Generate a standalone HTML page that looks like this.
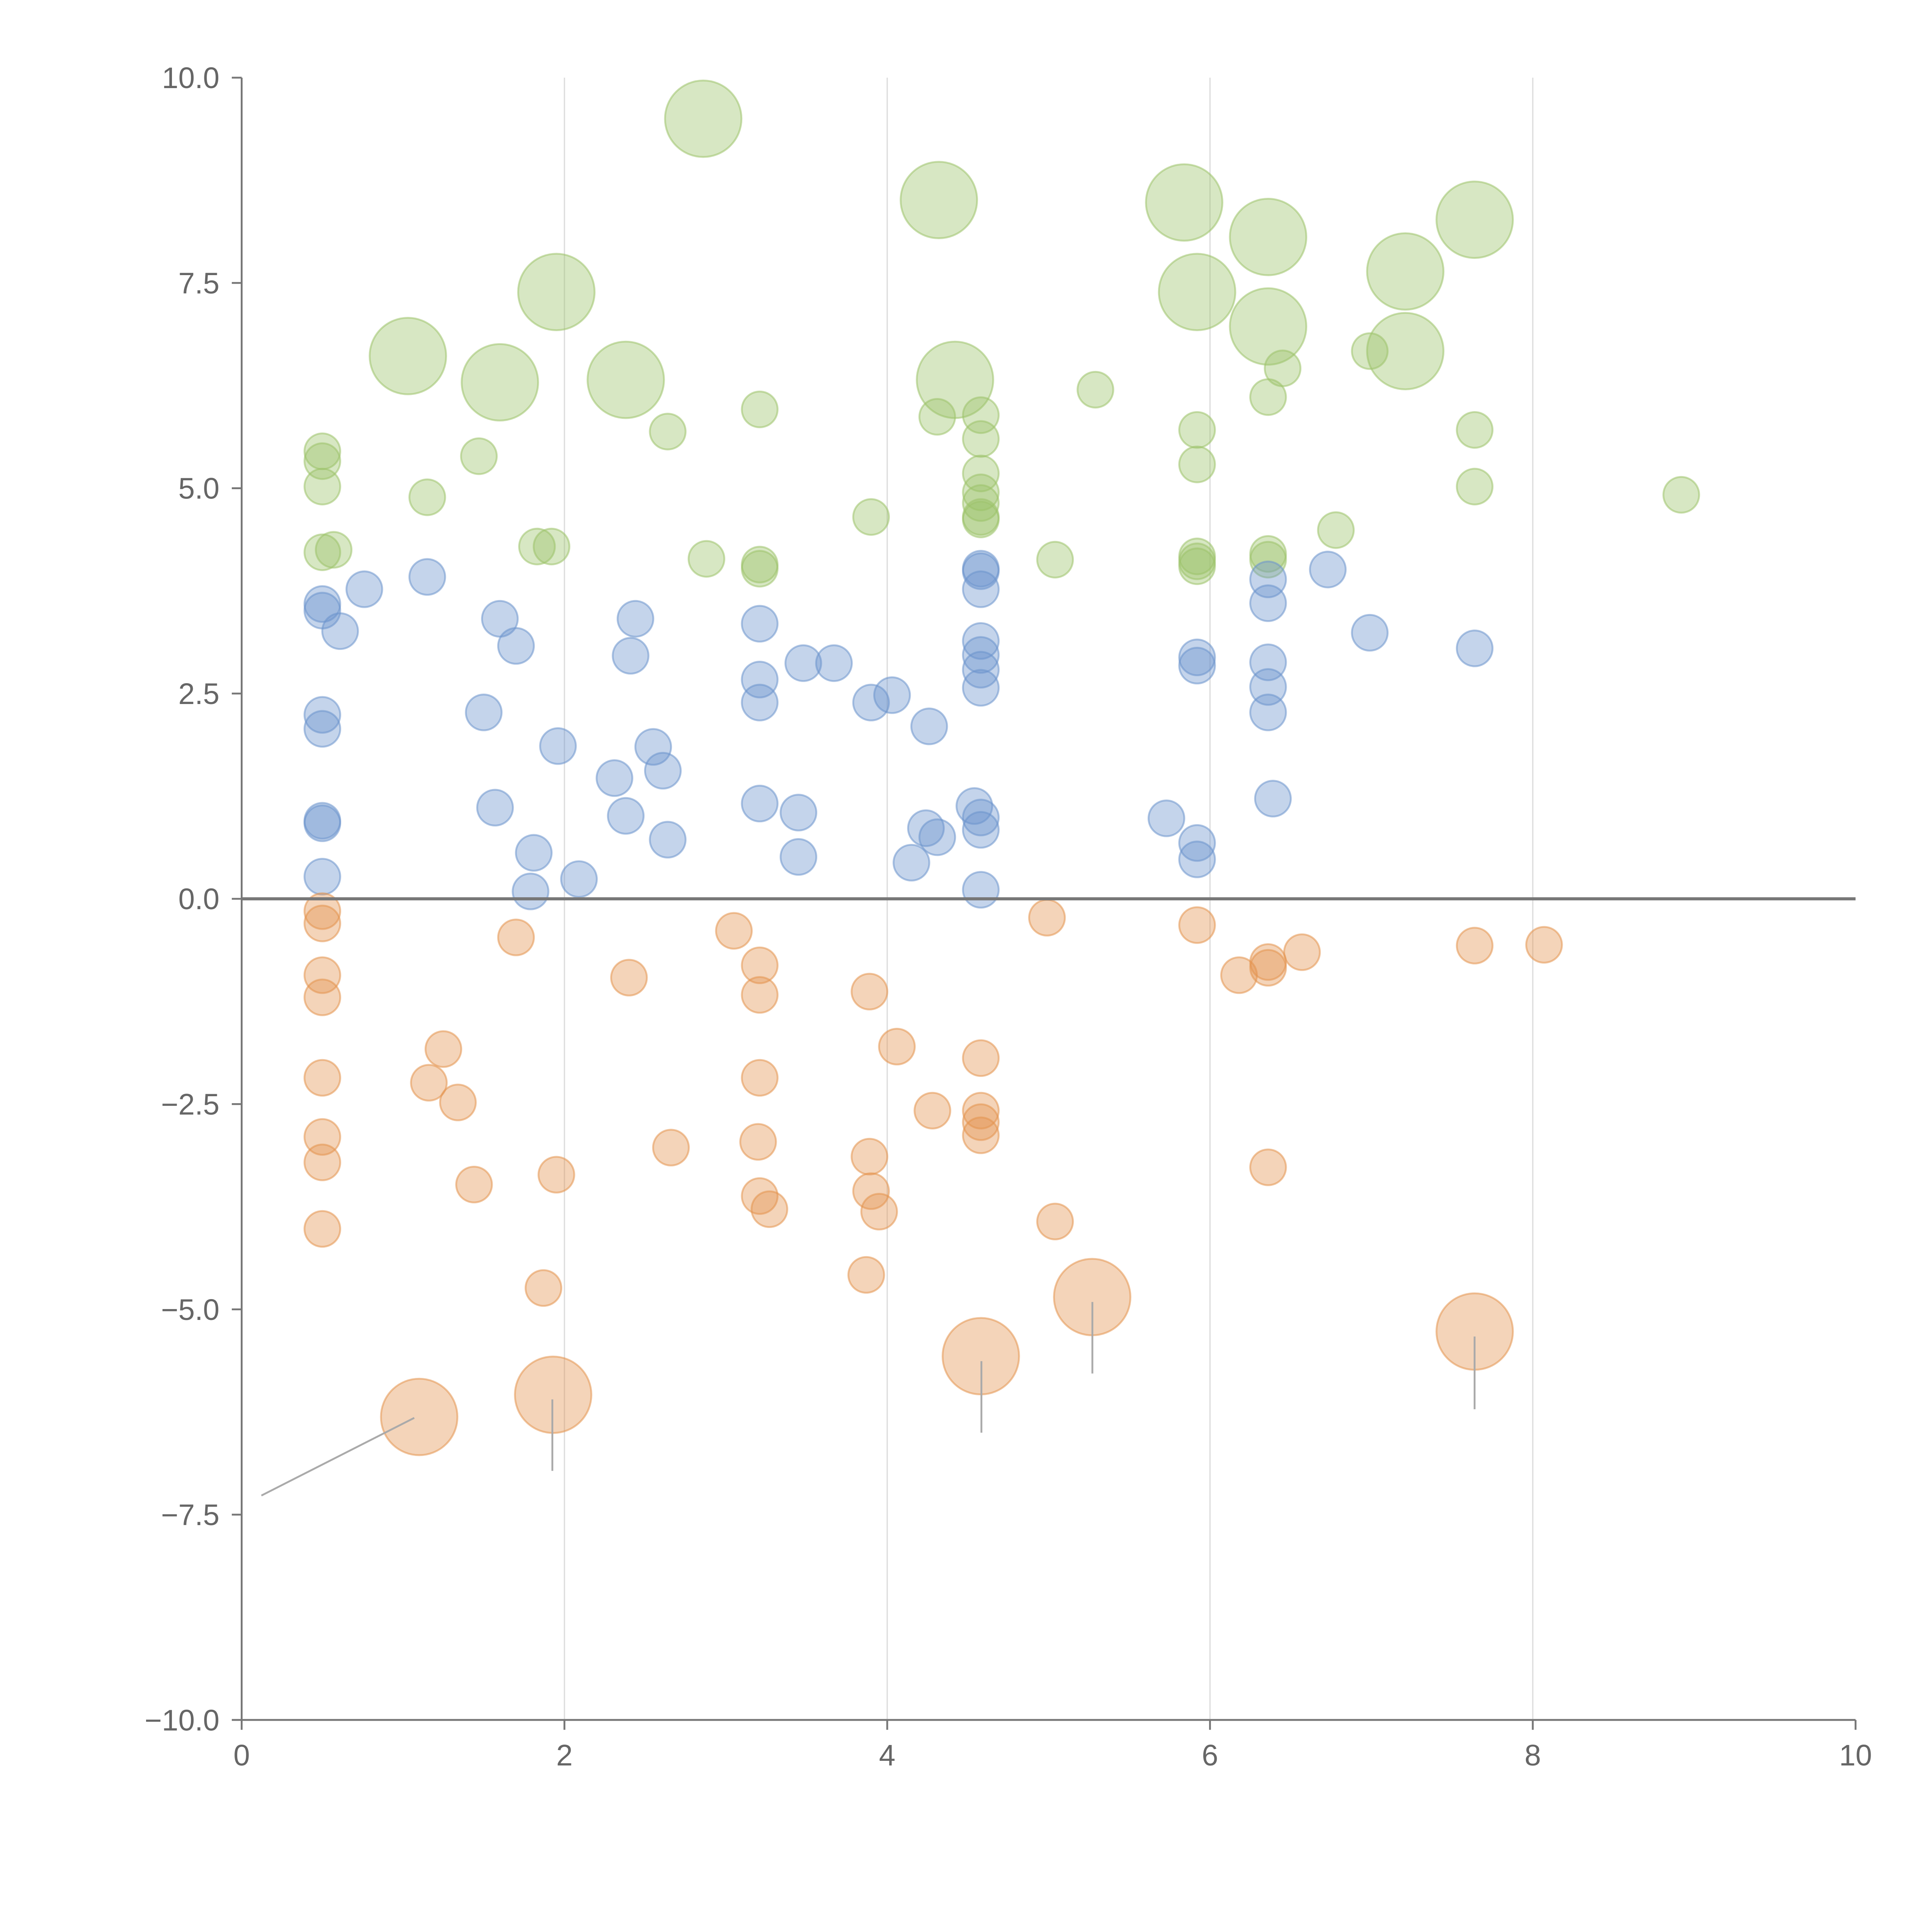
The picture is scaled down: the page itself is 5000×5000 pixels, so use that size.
<!DOCTYPE html>
<html><head><meta charset="utf-8">
<style>html,body{margin:0;padding:0;background:#fff;}svg{display:block;}</style></head>
<body>
<svg id="chart" width="5000" height="5000" viewBox="0 0 1567 1567" xmlns="http://www.w3.org/2000/svg" font-family="'Liberation Sans', sans-serif">
<rect width="1567" height="1567" fill="#fff"/>
<g id="grid"></g>
<g id="marks"></g>
<g id="axes"></g>
</svg>
<script>
const xTicks = [0, 2, 4, 6, 8, 10];
const yTicks = [-10, -7.5, -5, -2.5, 0, 2.5, 5, 7.5, 10];
const yTickLabels = ["−10.0", "−7.5", "−5.0", "−2.5", "0.0", "2.5", "5.0", "7.5", "10.0"];
const greenX = [2.86,4.32,5.84,6.36,7.64,1.95,5.92,7.21,6.36,1.03,7.21,1.60,2.38,4.42,0.5,0.5,0.5,0.5,0.57,1.15,1.47,1.83,1.92,2.64,2.88,3.21,3.21,3.21,3.90,4.31,4.58,4.58,4.58,4.58,4.58,4.58,4.58,5.04,5.29,5.92,5.92,5.92,5.92,5.92,6.36,6.36,6.45,6.36,6.78,6.99,7.64,7.64,8.92];
const greenY = [9.50,8.51,8.48,8.06,8.27,7.39,7.39,7.64,6.97,6.61,6.67,6.29,6.32,6.32,5.45,5.33,5.02,4.22,4.25,4.89,5.39,4.29,4.29,5.69,4.14,5.96,4.07,4.02,4.65,5.87,5.89,5.60,5.18,4.95,4.82,4.65,4.62,4.13,6.20,5.71,5.29,4.17,4.11,4.05,4.20,4.13,6.46,6.11,4.49,6.67,5.71,5.02,4.92];
const greenSize = [1,1,1,1,1,1,1,1,1,1,1,1,1,1,0,0,0,0,0,0,0,0,0,0,0,0,0,0,0,0,0,0,0,0,0,0,0,0,0,0,0,0,0,0,0,0,0,0,0,0,0,0,0];
const blueX = [0.5,0.5,0.61,0.76,1.15,1.60,1.70,0.5,0.5,1.50,1.57,0.5,0.5,0.5,1.81,1.79,2.09,1.96,2.31,2.38,2.44,2.41,2.55,2.61,2.64,3.21,3.21,3.21,3.21,3.45,3.45,3.48,3.67,3.90,4.03,4.26,4.15,4.24,4.31,4.54,4.58,4.58,4.58,4.58,4.58,4.58,4.58,4.58,4.58,4.58,5.73,5.92,5.92,5.92,5.92,6.36,6.36,6.36,6.36,6.36,6.39,6.73,6.99,7.64];
const blueY = [3.59,3.51,3.26,3.77,3.92,3.41,3.08,2.24,2.07,2.27,1.11,0.95,0.92,0.27,0.56,0.09,0.24,1.86,1.47,1.01,3.41,2.96,1.85,1.56,0.72,3.35,2.67,2.39,1.16,1.05,0.51,2.87,2.87,2.39,2.48,2.10,0.44,0.86,0.75,1.13,0.99,0.84,0.11,4.02,3.99,3.77,3.14,2.97,2.79,2.57,0.98,0.68,0.48,2.94,2.84,3.89,3.60,2.88,2.58,2.27,1.22,4.01,3.24,3.05];
const orangeX = [0.5,0.5,0.5,0.5,0.5,0.5,0.5,0.5,1.25,1.16,1.34,1.44,1.70,1.87,1.95,2.40,2.66,3.05,3.21,3.21,3.21,3.20,3.21,3.27,3.89,3.89,3.90,3.95,3.87,4.06,4.28,4.58,4.58,4.58,4.58,4.99,5.04,5.92,6.18,6.36,6.36,6.57,6.36,7.64,8.07,1.10,1.93,4.58,5.27,7.64];
const orangeY = [-0.15,-0.30,-0.93,-1.20,-2.18,-2.90,-3.21,-4.02,-1.83,-2.24,-2.48,-3.48,-0.47,-4.74,-3.36,-0.96,-3.03,-0.39,-0.81,-1.17,-2.18,-2.96,-3.62,-3.78,-1.13,-3.14,-3.56,-3.81,-4.58,-1.80,-2.58,-1.94,-2.58,-2.72,-2.88,-0.23,-3.93,-0.32,-0.93,-0.77,-0.84,-0.65,-3.27,-0.57,-0.56,-6.31,-6.04,-5.57,-4.85,-5.27];
const orangeSize = [0,0,0,0,0,0,0,0,0,0,0,0,0,0,0,0,0,0,0,0,0,0,0,0,0,0,0,0,0,0,0,0,0,0,0,0,0,0,0,0,0,0,0,0,0,1,1,1,1,1];

const NS = "http://www.w3.org/2000/svg";
const X0 = 196, X1 = 1505, Y0 = 1395, Y1 = 63;
function xs(v){ return X0 + (v - 0) / 10 * (X1 - X0); }
function ys(v){ return Y0 - (v + 10) / 20 * (Y0 - Y1); }
function rs(s){ return s ? 31 : 14.5; }
function mk(tag, attrs, parent){
  const e = document.createElementNS(NS, tag);
  for (const k in attrs) e.setAttribute(k, attrs[k]);
  parent.appendChild(e);
  return e;
}
const grid = document.getElementById('grid');
const marks = document.getElementById('marks');
const axes = document.getElementById('axes');

xTicks.forEach(t => {
  if (t === 0 || t === 10) return;
  const l = mk('line', {x1: xs(t), x2: xs(t), y1: Y1, y2: Y0, stroke: '#dcdcdc', 'stroke-width': 1}, grid);
  
  
});

function series(xa, ya, sa, fill, name){
  xa.forEach((xv, i) => {
    const c = mk('circle', {cx: xs(xv), cy: ys(ya[i]), r: rs(sa ? sa[i] : 0), fill: fill, 'fill-opacity': 0.4, stroke: fill, 'stroke-opacity': 0.55, 'stroke-width': 1.5}, marks);
    
    
  });
}
series(greenX, greenY, greenSize, '#9cc26a', 'green-bubble');
series(blueX, blueY, null, '#6b93cc', 'blue-bubble');
series(orangeX, orangeY, orangeSize, '#e4944f', 'orange-bubble');

const leaders = [[212,1213,336,1150],[448,1135,448,1193],[796,1104,796,1162],[886,1056,886,1114],[1196,1084,1196,1143]];
leaders.forEach(a => {
  const l = mk('line', {x1:a[0], y1:a[1], x2:a[2], y2:a[3], stroke:'#aaa', 'stroke-width':1.5}, marks);
  
  
});

const z = mk('line', {x1: X0, x2: X1, y1: ys(0), y2: ys(0), stroke: '#777', 'stroke-width': 2.5}, axes);



const ya = mk('line', {x1: X0, x2: X0, y1: Y1, y2: Y0, stroke: '#777', 'stroke-width': 1.5}, axes);


const xa = mk('line', {x1: X0, x2: X1, y1: Y0, y2: Y0, stroke: '#777', 'stroke-width': 1.5}, axes);



yTicks.forEach((t, i) => {
  const tk = mk('line', {x1: X0 - 8, x2: X0, y1: ys(t), y2: ys(t), stroke: '#777', 'stroke-width': 1.5}, axes);
  
  
  const tx = mk('text', {x: X0 - 18, y: ys(t) + 8.5, 'text-anchor': 'end', 'font-size': 24, fill: '#666'}, axes);
  tx.textContent = yTickLabels[i];
  
  
});
xTicks.forEach(t => {
  const tk = mk('line', {x1: xs(t), x2: xs(t), y1: Y0, y2: Y0 + 8, stroke: '#777', 'stroke-width': 1.5}, axes);
  
  
  const tx = mk('text', {x: xs(t), y: Y0 + 37, 'text-anchor': 'middle', 'font-size': 24, fill: '#666'}, axes);
  tx.textContent = String(t);
  
  
});
</script>
</body></html>
